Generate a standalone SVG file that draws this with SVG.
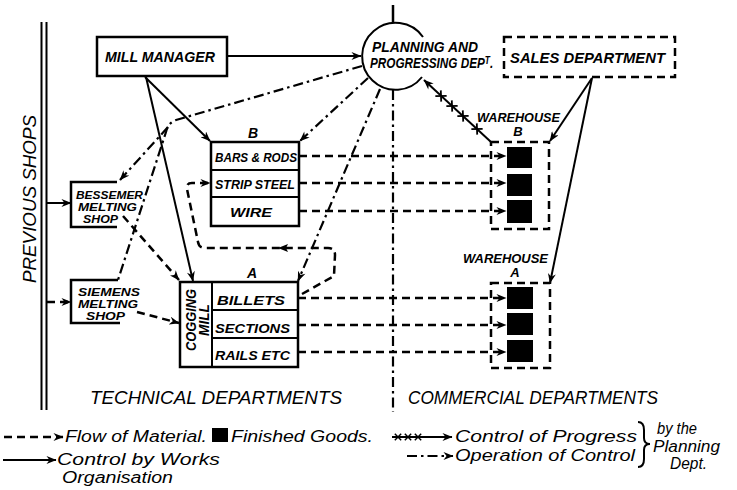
<svg xmlns="http://www.w3.org/2000/svg" width="737" height="490" viewBox="0 0 737 490">
<style>
.t{font-family:"Liberation Sans",Arial,sans-serif;font-style:italic;fill:#000}
.c{font-size:14px;font-weight:bold}
.s{font-size:13px;font-weight:bold}
.m{font-size:15px;font-weight:bold}
.x{font-size:11px;font-weight:bold}
.big{font-size:19px}
.lg{font-size:16px}
.box{fill:none;stroke:#000;stroke-width:2.5}
.dbox{fill:none;stroke:#000;stroke-width:2.5;stroke-dasharray:8 5}
.sol{fill:none;stroke:#000;stroke-width:2}
.dash{fill:none;stroke:#000;stroke-width:2.5;stroke-dasharray:8 5}
.dd{fill:none;stroke:#000;stroke-width:2.2;stroke-dasharray:10 4 2.5 4}
.fg{fill:#000}
</style>
<defs>
<marker id="ah" viewBox="0 0 10 8" refX="9.5" refY="4" markerWidth="11" markerHeight="8" markerUnits="userSpaceOnUse" orient="auto">
<path d="M0,0 L10,4 L0,8 L3,4 z" fill="#000"/>
</marker>
<g id="xm"><path d="M-4,-4 L4,4 M-4,4 L4,-4" stroke="#000" stroke-width="1.8" fill="none"/></g>
</defs>

<g id="previous-shops">
<line x1="41.5" y1="22" x2="41.5" y2="410" stroke="#000" stroke-width="2"/>
<line x1="46.5" y1="22" x2="46.5" y2="410" stroke="#000" stroke-width="2"/>
<text class="t big" transform="translate(36,199) rotate(-90)" text-anchor="middle" textLength="168" lengthAdjust="spacingAndGlyphs">PREVIOUS  SHOPS</text>
</g>

<g id="mill-manager">
<rect class="box" x="97" y="37" width="130" height="39"/>
<text class="t c" x="105" y="62" textLength="110" lengthAdjust="spacingAndGlyphs">MILL MANAGER</text>
</g>

<g id="planning">
<path class="sol" stroke-width="2.5" d="M423,37 A33.5,33.5 0 1 0 422,77"/>
<line x1="393" y1="5" x2="393" y2="23" stroke="#000" stroke-width="2.5"/>
<text class="t c" x="372" y="52" textLength="106" lengthAdjust="spacingAndGlyphs">PLANNING AND</text>
<text class="t c" transform="translate(370,68) scale(0.84,1)">PROGRESSING DEP<tspan font-size="10" dy="-4">T</tspan><tspan dy="4">.</tspan></text>
</g>

<g id="sales">
<rect class="dbox" x="504" y="37" width="171" height="40"/>
<text class="t c" x="510" y="63" textLength="155" lengthAdjust="spacingAndGlyphs">SALES DEPARTMENT</text>
</g>

<g id="block-b">
<text class="t c" x="253" y="138" text-anchor="middle">B</text>
<rect class="box" x="211" y="142" width="88" height="84"/>
<line class="sol" stroke-width="2.5" x1="211" y1="170" x2="299" y2="170"/>
<line class="sol" stroke-width="2.5" x1="211" y1="197" x2="299" y2="197"/>
<text class="t s" x="215" y="162" textLength="82" lengthAdjust="spacingAndGlyphs">BARS &amp; RODS</text>
<text class="t s" x="215" y="189" textLength="80" lengthAdjust="spacingAndGlyphs">STRIP STEEL</text>
<text class="t s" x="230" y="217" textLength="42" lengthAdjust="spacingAndGlyphs">WIRE</text>
</g>

<g id="block-a">
<text class="t c" x="252" y="278" text-anchor="middle">A</text>
<rect class="box" x="180" y="282" width="118" height="85"/>
<line class="sol" stroke-width="2.5" x1="212" y1="282" x2="212" y2="367"/>
<line class="sol" stroke-width="2.5" x1="212" y1="310" x2="298" y2="310"/>
<line class="sol" stroke-width="2.5" x1="212" y1="338" x2="298" y2="338"/>
<text class="t m" transform="translate(196,320) rotate(-90)" text-anchor="middle" textLength="62" lengthAdjust="spacingAndGlyphs">COGGING</text>
<text class="t m" transform="translate(209,320) rotate(-90)" text-anchor="middle" textLength="32" lengthAdjust="spacingAndGlyphs">MILL</text>
<text class="t s" x="217" y="305" textLength="68" lengthAdjust="spacingAndGlyphs">BILLETS</text>
<text class="t s" x="215" y="333" textLength="75" lengthAdjust="spacingAndGlyphs">SECTIONS</text>
<text class="t s" x="215" y="360" textLength="75" lengthAdjust="spacingAndGlyphs">RAILS ETC</text>
</g>

<g id="bessemer">
<path class="box" d="M117,182 H71 V227 H117"/>
<text class="t x" x="76" y="199" textLength="67" lengthAdjust="spacingAndGlyphs">BESSEMER</text>
<text class="t x" x="78" y="211" textLength="59" lengthAdjust="spacingAndGlyphs">MELTING</text>
<text class="t x" x="83" y="223" textLength="35" lengthAdjust="spacingAndGlyphs">SHOP</text>
</g>

<g id="siemens">
<path class="box" d="M118,280 H71 V323 H120"/>
<text class="t x" x="78" y="296" textLength="62" lengthAdjust="spacingAndGlyphs">SIEMENS</text>
<text class="t x" x="78" y="308" textLength="60" lengthAdjust="spacingAndGlyphs">MELTING</text>
<text class="t x" x="86" y="320" textLength="39" lengthAdjust="spacingAndGlyphs">SHOP</text>
</g>

<g id="warehouse-b">
<text class="t s" x="477" y="122" textLength="83" lengthAdjust="spacingAndGlyphs">WAREHOUSE</text>
<text class="t s" x="518" y="136" text-anchor="middle">B</text>
<rect class="dbox" x="491" y="142" width="58" height="87"/>
<rect class="fg" x="507" y="147" width="25" height="21"/>
<rect class="fg" x="507" y="174" width="25" height="22"/>
<rect class="fg" x="507" y="200" width="25" height="23"/>
</g>

<g id="warehouse-a">
<text class="t s" x="463" y="263" textLength="85" lengthAdjust="spacingAndGlyphs">WAREHOUSE</text>
<text class="t s" x="515" y="277" text-anchor="middle">A</text>
<rect class="dbox" x="491" y="283" width="59" height="85"/>
<rect class="fg" x="507" y="287" width="26" height="22"/>
<rect class="fg" x="507" y="313" width="26" height="22"/>
<rect class="fg" x="507" y="340" width="26" height="22"/>
</g>

<g id="section-labels">
<text class="t big" x="90" y="404" textLength="252" lengthAdjust="spacingAndGlyphs">TECHNICAL  DEPARTMENTS</text>
<text class="t big" x="408" y="404" textLength="250" lengthAdjust="spacingAndGlyphs">COMMERCIAL  DEPARTMENTS</text>
</g>

<g id="connectors">
<line class="sol" x1="227" y1="56" x2="361" y2="56" marker-end="url(#ah)"/>
<line class="sol" x1="145" y1="77" x2="210" y2="141" marker-end="url(#ah)"/>
<line class="sol" x1="146" y1="77" x2="193" y2="281" marker-end="url(#ah)"/>
<line class="sol" x1="47" y1="203" x2="71" y2="203" marker-end="url(#ah)"/>
<line class="sol" x1="592" y1="78" x2="550" y2="141" marker-end="url(#ah)"/>
<line class="sol" x1="592" y1="78" x2="550" y2="283" marker-end="url(#ah)"/>
<path class="dd" d="M362,66 L176,120 Q168,123 166,132 L118,280"/>
<line class="dd" x1="168" y1="127" x2="120" y2="180" marker-end="url(#ah)"/>
<line class="dd" x1="368" y1="78" x2="300" y2="141" marker-end="url(#ah)"/>
<line class="dd" x1="380" y1="89" x2="298" y2="281" marker-end="url(#ah)"/>
<line class="dd" x1="393" y1="90" x2="393" y2="412"/>
<line class="dash" x1="47" y1="302" x2="71" y2="302" stroke-dasharray="5 4" marker-end="url(#ah)"/>
<line class="dash" x1="123" y1="216" x2="179" y2="280" marker-end="url(#ah)"/>
<line class="dash" x1="137" y1="312" x2="179" y2="323" marker-end="url(#ah)"/>
<line class="dash" x1="299" y1="156" x2="506" y2="156" marker-end="url(#ah)"/>
<line class="dash" x1="299" y1="183" x2="506" y2="183" marker-end="url(#ah)"/>
<line class="dash" x1="299" y1="211" x2="506" y2="211" marker-end="url(#ah)"/>
<line class="dash" x1="298" y1="298" x2="506" y2="298" marker-end="url(#ah)"/>
<line class="dash" x1="298" y1="325" x2="506" y2="325" marker-end="url(#ah)"/>
<line class="dash" x1="298" y1="352" x2="506" y2="352" marker-end="url(#ah)"/>
<path class="dash" d="M302,294 L334,276 L335,255 Q335,248 328,248 L205,248 Q199,248 198,242 L187,189 Q186,183 192,183 L210,183" marker-end="url(#ah)"/>
<path d="M278,248 L288,244 L286,248 L288,252 z" fill="#000"/>
<line class="sol" x1="491" y1="142" x2="424" y2="80" marker-end="url(#ah)"/>
<use href="#xm" transform="translate(477,129) rotate(42.8)"/>
<use href="#xm" transform="translate(463,116) rotate(42.8)"/>
<use href="#xm" transform="translate(452,106) rotate(42.8)"/>
<use href="#xm" transform="translate(441,96) rotate(42.8)"/>
</g>

<g id="legend">
<line class="dash" x1="4" y1="437" x2="63" y2="437" marker-end="url(#ah)"/>
<text class="t lg" x="65" y="442" textLength="142" lengthAdjust="spacingAndGlyphs">Flow of Material.</text>
<rect class="fg" x="212" y="428" width="16" height="14"/>
<text class="t lg" x="231" y="442" textLength="142" lengthAdjust="spacingAndGlyphs">Finished Goods.</text>
<line class="sol" x1="3" y1="460" x2="56" y2="460" marker-end="url(#ah)"/>
<text class="t lg" x="57" y="465" textLength="163" lengthAdjust="spacingAndGlyphs">Control by Works</text>
<text class="t lg" x="62" y="483" textLength="111" lengthAdjust="spacingAndGlyphs">Organisation</text>
<line class="sol" x1="392" y1="437" x2="452" y2="437" marker-end="url(#ah)"/>
<use href="#xm" transform="translate(398,437) scale(0.8)"/>
<use href="#xm" transform="translate(408,437) scale(0.8)"/>
<use href="#xm" transform="translate(418,437) scale(0.8)"/>
<text class="t lg" x="455" y="442" textLength="182" lengthAdjust="spacingAndGlyphs">Control of Progress</text>
<line class="dd" x1="407" y1="456" x2="453" y2="456" marker-end="url(#ah)"/>
<text class="t lg" x="455" y="461" textLength="180" lengthAdjust="spacingAndGlyphs">Operation of Control</text>
<path class="sol" stroke-width="1.8" d="M638,422 Q644,422 644,430 L644,438 Q644,444 650,444 Q644,444 644,450 L644,459 Q644,467 638,467"/>
<text class="t lg" x="657" y="434" textLength="40" lengthAdjust="spacingAndGlyphs">by the</text>
<text class="t lg" x="653" y="452" textLength="67" lengthAdjust="spacingAndGlyphs">Planning</text>
<text class="t lg" x="670" y="469" textLength="37" lengthAdjust="spacingAndGlyphs">Dept.</text>
</g>
</svg>
